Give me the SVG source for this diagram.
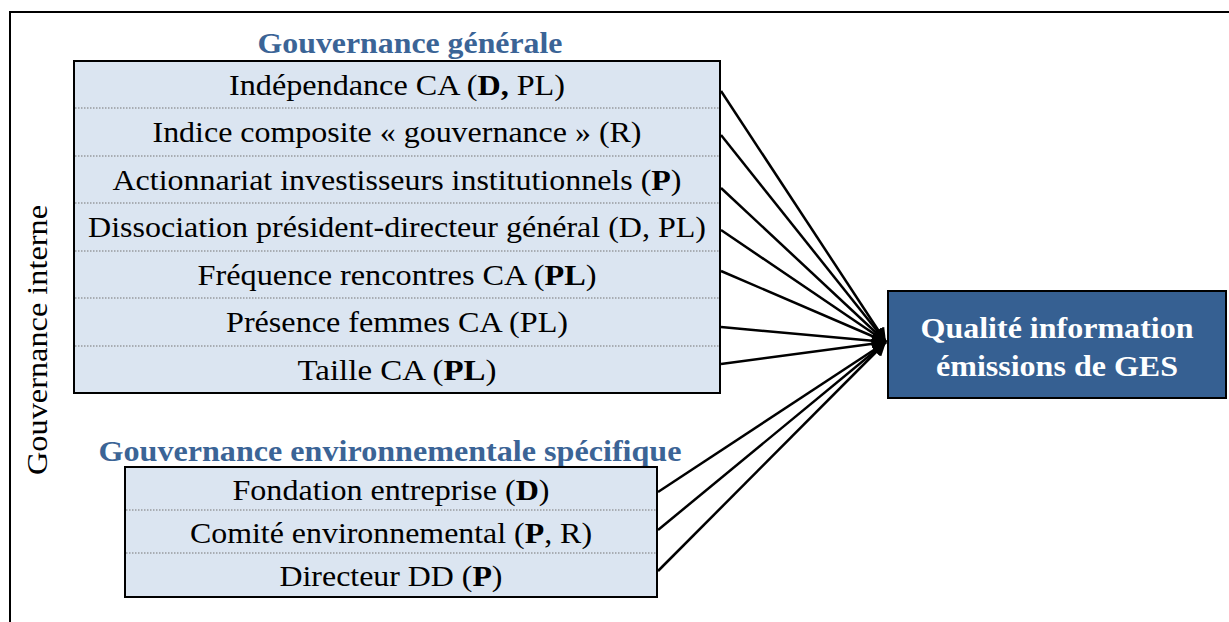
<svg xmlns="http://www.w3.org/2000/svg" width="1229" height="622" viewBox="0 0 1229 622">
<style>
.t{font-family:"Liberation Serif","Times New Roman",serif;font-size:30px;fill:#000;text-anchor:middle}
.h{font-family:"Liberation Serif","Times New Roman",serif;font-size:29px;font-weight:bold;fill:#3b6496;text-anchor:middle}
.box{fill:#dbe5f1;stroke:#000;stroke-width:2}
.div{stroke:#777;stroke-width:1.2;stroke-dasharray:1.5 1.5}
.c{stroke:#000;stroke-width:2.5;fill:none;marker-end:url(#ah)}
.w{font-family:"Liberation Serif","Times New Roman",serif;font-size:30px;font-weight:bold;fill:#fff;text-anchor:middle}
</style>
<defs>
<marker id="ah" viewBox="0 0 10 10" refX="10" refY="5" markerWidth="5.5" markerHeight="5.5" orient="auto" markerUnits="strokeWidth">
<path d="M0,0 L10,5 L0,10 z" fill="#000"/>
</marker>
</defs>
<rect width="1229" height="622" fill="#fff"/>
<path d="M10,622 V12 H1229" fill="none" stroke="#000" stroke-width="2"/>
<text class="t" transform="translate(47,340) rotate(-90)" textLength="270" lengthAdjust="spacingAndGlyphs">Gouvernance interne</text>

<g id="general">
<text class="h" x="410" y="53" textLength="305" lengthAdjust="spacingAndGlyphs">Gouvernance générale</text>
<rect class="box" x="74" y="61" width="646" height="332"/>
<line class="div" x1="75" y1="108" x2="719" y2="108"/>
<line class="div" x1="75" y1="156" x2="719" y2="156"/>
<line class="div" x1="75" y1="203" x2="719" y2="203"/>
<line class="div" x1="75" y1="251" x2="719" y2="251"/>
<line class="div" x1="75" y1="298" x2="719" y2="298"/>
<line class="div" x1="75" y1="346" x2="719" y2="346"/>
<text class="t" x="397" y="95" textLength="336" lengthAdjust="spacingAndGlyphs">Indépendance CA (<tspan font-weight="bold">D,</tspan> PL)</text>
<text class="t" x="397" y="142" textLength="489" lengthAdjust="spacingAndGlyphs">Indice composite « gouvernance » (R)</text>
<text class="t" x="397" y="190" textLength="569" lengthAdjust="spacingAndGlyphs">Actionnariat investisseurs institutionnels (<tspan font-weight="bold">P</tspan>)</text>
<text class="t" x="397" y="237" textLength="618" lengthAdjust="spacingAndGlyphs">Dissociation président-directeur général (D, PL)</text>
<text class="t" x="397" y="285" textLength="399" lengthAdjust="spacingAndGlyphs">Fréquence rencontres CA (<tspan font-weight="bold">PL</tspan>)</text>
<text class="t" x="397" y="332" textLength="342" lengthAdjust="spacingAndGlyphs">Présence femmes CA (PL)</text>
<text class="t" x="397" y="380" textLength="199" lengthAdjust="spacingAndGlyphs">Taille CA (<tspan font-weight="bold">PL</tspan>)</text>
</g>

<g id="environnementale">
<text class="h" x="390" y="461" textLength="583" lengthAdjust="spacingAndGlyphs">Gouvernance environnementale spécifique</text>
<rect class="box" x="125" y="467" width="532" height="130"/>
<line class="div" x1="126" y1="510" x2="656" y2="510"/>
<line class="div" x1="126" y1="553" x2="656" y2="553"/>
<text class="t" x="391" y="500" textLength="317" lengthAdjust="spacingAndGlyphs">Fondation entreprise (<tspan font-weight="bold">D</tspan>)</text>
<text class="t" x="391" y="543" textLength="402" lengthAdjust="spacingAndGlyphs">Comité environnemental (<tspan font-weight="bold">P</tspan>, R)</text>
<text class="t" x="391" y="586" textLength="223" lengthAdjust="spacingAndGlyphs">Directeur DD (<tspan font-weight="bold">P</tspan>)</text>
</g>

<g id="qualite">
<rect x="888" y="291" width="338" height="107" fill="#366092" stroke="#000" stroke-width="2"/>
<text class="w" x="1057" y="338" textLength="273" lengthAdjust="spacingAndGlyphs">Qualité information</text>
<text class="w" x="1057" y="376" textLength="242" lengthAdjust="spacingAndGlyphs">émissions de GES</text>
</g>

<g id="connectors">
<line class="c" x1="721" y1="91" x2="886" y2="342"/>
<line class="c" x1="721" y1="135" x2="886" y2="342"/>
<line class="c" x1="721" y1="188" x2="886" y2="342"/>
<line class="c" x1="721" y1="230" x2="886" y2="342"/>
<line class="c" x1="721" y1="271" x2="886" y2="342"/>
<line class="c" x1="721" y1="327" x2="886" y2="342"/>
<line class="c" x1="721" y1="364" x2="886" y2="342"/>
<line class="c" x1="658" y1="492" x2="886" y2="342"/>
<line class="c" x1="658" y1="530" x2="886" y2="342"/>
<line class="c" x1="658" y1="571" x2="886" y2="342"/>
</g>
</svg>
